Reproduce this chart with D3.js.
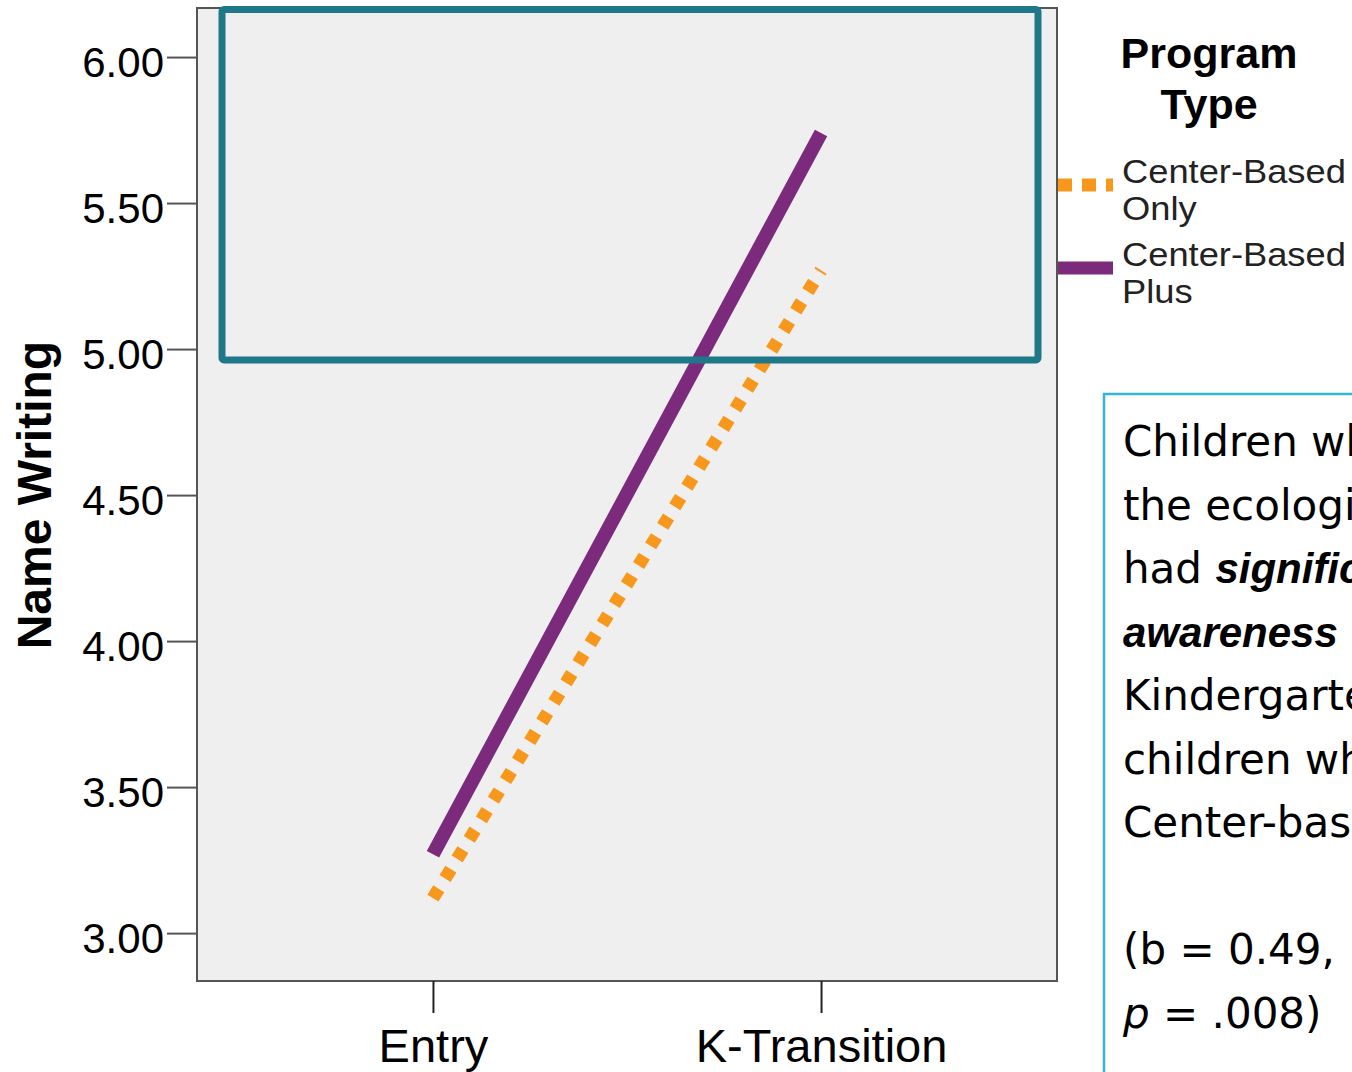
<!DOCTYPE html>
<html>
<head>
<meta charset="utf-8">
<script src="https://cdn.jsdelivr.net/npm/d3@7"></script>
<style>
  html, body { margin: 0; padding: 0; background: #ffffff; overflow: hidden; }
  svg { display: block; }
</style>
</head>
<body>
<svg id="chart" width="1352" height="1072"></svg>
<script>
// ---------- data ----------
const categories = ["Entry", "K-Transition"];
const seriesNames = ["Center-Based Only", "Center-Based Plus"];
const centerBasedOnly = [3.12, 5.27];
const centerBasedPlus = [3.27, 5.74];
const yTicks = [3.00, 3.50, 4.00, 4.50, 5.00, 5.50, 6.00];
const yTitle = "Name Writing";
const legendTitle = ["Program", "Type"];
const legendLabels = [["Center-Based", "Only"], ["Center-Based", "Plus"]];
const highlightRange = [4.963, 6.163]; // teal box value span
const noteLines = [
  [{t: "Children who experienced", s: "n"}],
  [{t: "the ecological", s: "n"}],
  [{t: "had ", s: "n"}, {t: "significantly higher", s: "bi"}],
  [{t: "awareness", s: "bi"}, {t: " at", s: "n"}],
  [{t: "Kindergarten", s: "n"}],
  [{t: "children who", s: "n"}],
  [{t: "Center-based", s: "n"}],
  [],
  [{t: "(b = 0.49,", s: "n"}],
  [{t: "p", s: "i"}, {t: " = .008)", s: "n"}]
];

// ---------- layout ----------
const svg = d3.select("#chart");
const plot = {left: 197, right: 1057, top: 8, bottom: 981};
const colors = {only: "#f7981d", plus: "#7b2a7c", teal: "#1f778a", box: "#33b5d9", frame: "#555555", bg: "#efefef"};
const font = "'Liberation Sans', Arial, sans-serif";

const x = d3.scalePoint().domain(categories).range([plot.left, plot.right]).padding(0.608);
const y = d3.scaleLinear().domain([2.836, 6.168]).range([plot.bottom, plot.top]);

// plot background + frame
svg.append("rect")
  .attr("x", plot.left).attr("y", plot.top)
  .attr("width", plot.right - plot.left).attr("height", plot.bottom - plot.top)
  .attr("fill", colors.bg).attr("stroke", colors.frame).attr("stroke-width", 2);

// y axis
const yAxis = svg.append("g").attr("transform", `translate(${plot.left},0)`)
  .call(d3.axisLeft(y).tickValues(yTicks).tickFormat(d3.format(".2f")).tickSize(30).tickPadding(3));
yAxis.select(".domain").remove();
yAxis.selectAll(".tick line").attr("stroke", colors.frame).attr("stroke-width", 2);
yAxis.selectAll(".tick text")
  .attr("font-family", font).attr("font-size", 42).attr("fill", "#000")
  .attr("dy", "0.47em");

// x axis
const xAxis = svg.append("g").attr("transform", `translate(0,${plot.bottom})`)
  .call(d3.axisBottom(x).tickSize(32).tickPadding(15.5));
xAxis.select(".domain").remove();
xAxis.selectAll(".tick line").attr("stroke", "#222").attr("stroke-width", 2);
xAxis.selectAll(".tick text")
  .attr("font-family", font).attr("font-size", 47).attr("fill", "#000");

// y title
svg.append("text")
  .attr("transform", `translate(51,${(y(yTicks[0]) + y(yTicks[yTicks.length-1])) / 2}) rotate(-90)`)
  .attr("text-anchor", "middle")
  .attr("font-family", font).attr("font-weight", "bold").attr("font-size", 48)
  .attr("fill", "#000")
  .text(yTitle);

// lines
const line = d3.line().x((d, i) => x(categories[i])).y(d => y(d));
svg.append("path").datum(centerBasedOnly)
  .attr("d", line).attr("fill", "none")
  .attr("stroke", colors.only).attr("stroke-width", 13)
  .attr("stroke-dasharray", "11,12").attr("stroke-linecap", "butt");
svg.append("path").datum(centerBasedPlus)
  .attr("d", line).attr("fill", "none")
  .attr("stroke", colors.plus).attr("stroke-width", 14).attr("stroke-linecap", "butt");

// teal highlight box
svg.append("rect")
  .attr("x", 222).attr("y", y(highlightRange[1]))
  .attr("width", 1038 - 222).attr("height", y(highlightRange[0]) - y(highlightRange[1]))
  .attr("fill", "none").attr("stroke", colors.teal).attr("stroke-width", 7).attr("rx", 2);

// legend
const legend = svg.append("g");
legendTitle.forEach((t, i) => {
  legend.append("text")
    .attr("x", 1209).attr("y", 68 + i * 51)
    .attr("text-anchor", "middle")
    .attr("font-family", font).attr("font-weight", "bold").attr("font-size", 43)
    .attr("fill", "#000").text(t);
});
const legendStyles = [
  {color: colors.only, dash: "14,10", y: 185},
  {color: colors.plus, dash: null, y: 268}
];
legendLabels.forEach((lab, i) => {
  const st = legendStyles[i];
  legend.append("line")
    .attr("x1", 1058).attr("x2", 1113).attr("y1", st.y).attr("y2", st.y)
    .attr("stroke", st.color).attr("stroke-width", 13)
    .attr("stroke-dasharray", st.dash);
  lab.forEach((t, j) => {
    legend.append("text")
      .attr("transform", `translate(1122,${st.y - 2 + j * 37}) scale(1.1,1)`)
      .attr("font-family", font).attr("font-size", 33).attr("fill", "#222")
      .text(t);
  });
});

// note box
svg.append("rect")
  .attr("x", 1104).attr("y", 394).attr("width", 400).attr("height", 800)
  .attr("fill", "none").attr("stroke", colors.box).attr("stroke-width", 2.5);

const noteFont = "'DejaVu Sans', sans-serif";
noteLines.forEach((parts, i) => {
  if (!parts.length) return;
  const t = svg.append("text")
    .attr("x", 1123).attr("y", 456 + i * 63.5)
    .attr("font-family", noteFont).attr("font-size", 42).attr("fill", "#000")
    .attr("xml:space", "preserve").style("white-space", "pre");
  parts.forEach(p => {
    const ts = t.append("tspan")
      .attr("font-weight", p.s === "bi" ? "bold" : "normal")
      .attr("font-style", p.s === "bi" || p.s === "i" ? "italic" : "normal")
      .text(p.t);
    if (p.s === "bi") ts.attr("font-family", font);
  });
});
</script>
</body>
</html>
